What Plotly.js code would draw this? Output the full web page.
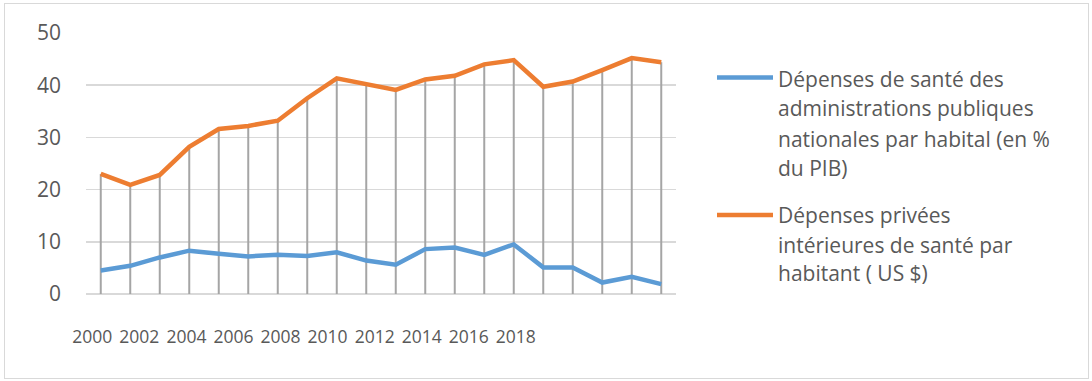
<!DOCTYPE html>
<html>
<head>
<meta charset="utf-8">
<script src="https://cdn.plot.ly/plotly-3.0.1.min.js"></script>
<style>
  html, body { margin: 0; padding: 0; background: #fff; }
  #wrap { position: relative; width: 1092px; height: 381px; }
  #chart { position: absolute; left: 0; top: 0; width: 1092px; height: 381px; }
  #frame { position: absolute; left: 4px; top: 3px; width: 1083px; height: 374px;
           border: 1.5px solid #d9d9d9; pointer-events: none; }
</style>
</head>
<body>
<div id="wrap"><div id="chart"></div><div id="frame"></div></div>
<script>
// ---- data ----
const years = [2000,2001,2002,2003,2004,2005,2006,2007,2008,2009,2010,2011,2012,2013,2014,2015,2016,2017,2018,2019];
const publicHealth = [4.5,5.4,7.0,8.3,7.7,7.2,7.5,7.3,8.0,6.4,5.6,8.6,8.9,7.5,9.5,5.1,5.1,2.2,3.3,1.9];
const privateHealth = [23.0,20.9,22.8,28.2,31.6,32.2,33.2,37.5,41.3,40.2,39.1,41.1,41.8,44.0,44.8,39.7,40.7,42.9,45.2,44.4];
const xTickLabels = ['2000','2002','2004','2006','2008','2010','2012','2014','2016','2018'];
const yTicks = [0,10,20,30,40,50];
const seriesNames = [
  'Dépenses de santé des<br>administrations publiques<br>nationales par habital (en %<br>du PIB)',
  'Dépenses privées<br>intérieures de santé par<br>habitant ( US $)'
];

// ---- styles ----
const BLUE = '#5B9BD5', ORANGE = '#ED7D31', DROP = '#A5A5A5', TXT = '#595959', GRID = '#D9D9D9';
const W = 1092, H = 381, ML = 86, MR = 416, MT = 33, MB = 87;
const PW = W - ML - MR, PH = H - MT - MB;
const px2x = p => (p - ML) / PW;
const px2y = p => 1 - (p - MT) / PH;

// drop lines from orange series down to 0
const dropX = [], dropY = [];
years.forEach((yr, i) => { dropX.push(yr, yr, null); dropY.push(privateHealth[i], 0, null); });

const traces = [
  { x: dropX, y: dropY, mode: 'lines', line: { color: DROP, width: 2 }, hoverinfo: 'skip', showlegend: false },
  { x: years, y: publicHealth, mode: 'lines', name: seriesNames[0], line: { color: BLUE, width: 4.5 }, showlegend: false },
  { x: years, y: privateHealth, mode: 'lines', name: seriesNames[1], line: { color: ORANGE, width: 4.5 }, showlegend: false },
  { x: xTickLabels.map((_, i) => i), y: xTickLabels.map(() => null), xaxis: 'x2', mode: 'lines', hoverinfo: 'skip', showlegend: false }
];

// manual legend
const legendColors = [BLUE, ORANGE];
const legendLineY = [77.5, 215];
const legendTextY = [[79.5, 108, 138.5, 167.5], [214.5, 244.5, 273]];
const shapes = [], annotations = [];
seriesNames.forEach((nm, k) => {
  shapes.push({ type: 'line', xref: 'paper', yref: 'paper', x0: px2x(717), x1: px2x(773),
    y0: px2y(legendLineY[k]), y1: px2y(legendLineY[k]), line: { color: legendColors[k], width: 4.5 } });
  nm.split('<br>').forEach((ln, j) => {
    annotations.push({ xref: 'paper', yref: 'paper', x: px2x(776), y: px2y(legendTextY[k][j]),
      xanchor: 'left', yanchor: 'middle', showarrow: false, align: 'left', text: ln,
      font: { family: 'Open Sans, sans-serif', size: 21, color: TXT } });
  });
});

const pitch = 47.06, firstLabelPx = 92.3;
const r0 = -(firstLabelPx - ML) / pitch;

const layout = {
  width: W, height: H,
  margin: { l: ML, r: MR, t: MT, b: MB, pad: 0 },
  paper_bgcolor: '#fff', plot_bgcolor: '#fff',
  font: { family: 'Open Sans, sans-serif', color: TXT },
  xaxis: { range: [years[0] - 0.5, years[years.length - 1] + 0.5], showticklabels: false,
    showgrid: false, zeroline: false, showline: false, ticks: '' },
  xaxis2: { overlaying: 'x', anchor: 'y', side: 'bottom', range: [r0, r0 + PW / pitch],
    tickmode: 'array', tickvals: xTickLabels.map((_, i) => i), ticktext: xTickLabels, tickangle: 0,
    showgrid: false, zeroline: false, showline: false, ticks: '', ticklabelstandoff: 30,
    tickfont: { family: 'Open Sans, sans-serif', size: 17.5, color: TXT } },
  yaxis: { range: [0, 50], tickmode: 'array', tickvals: yTicks, showgrid: true, gridcolor: GRID, gridwidth: 1.5,
    zeroline: true, zerolinecolor: GRID, zerolinewidth: 1.5, showline: false, ticks: '',
    ticklabelstandoff: 24, tickfont: { family: 'Open Sans, sans-serif', size: 21, color: TXT } },
  shapes: shapes,
  annotations: annotations
};

Plotly.newPlot('chart', traces, layout, { staticPlot: true, displayModeBar: false });
</script>
</body>
</html>
